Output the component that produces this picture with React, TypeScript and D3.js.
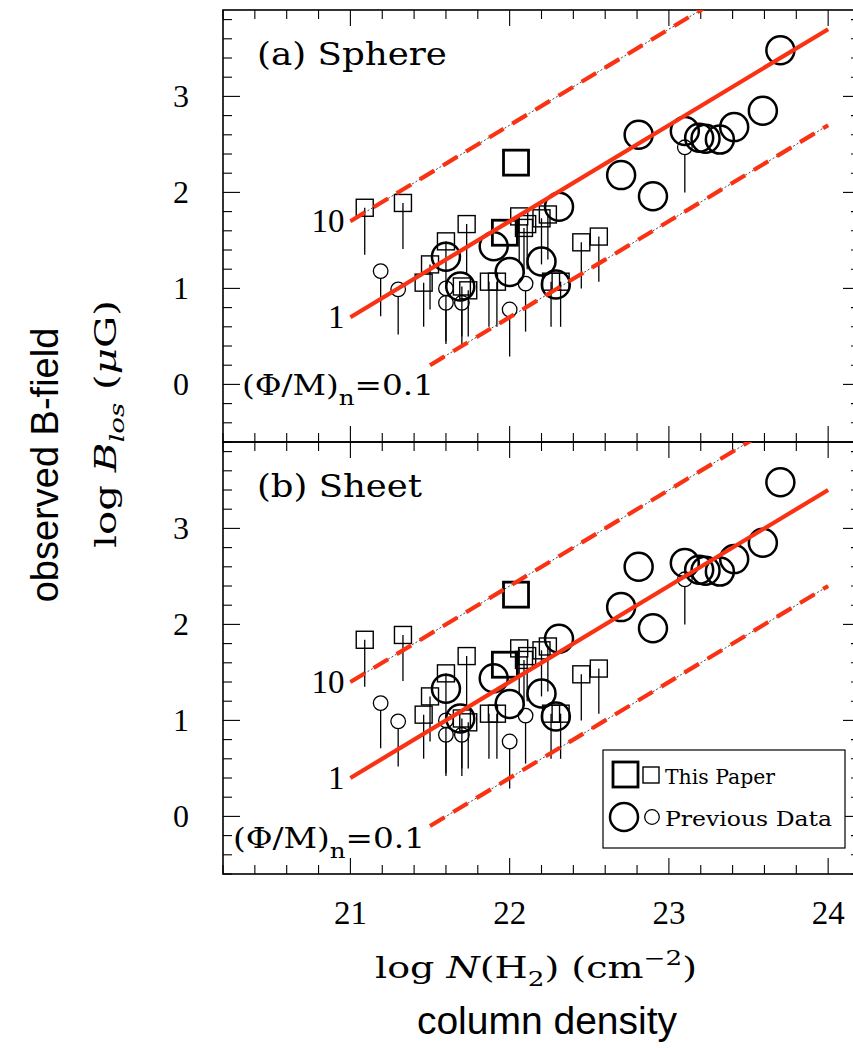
import React from 'react';
import * as d3 from 'd3';

// ---------- data (log N(H2), log B_los) ----------
const xTickValues = [21, 22, 23, 24];
const yTickValues = [0, 1, 2, 3];

// This Paper, detections (large squares)
const paperDetN = [22.04, 21.97];
const paperDetB = [2.31, 1.58];

// This Paper, limits (small squares with lines down)
const paperLimN = [21.09, 21.33, 21.46, 21.5, 21.6, 21.73, 21.87, 21.92, 22.06, 22.11, 22.09, 22.2, 22.24, 22.26, 22.32, 22.45, 22.56, 21.7, 21.74];
const paperLimB = [1.84, 1.89, 1.06, 1.25, 1.49, 1.67, 1.07, 1.07, 1.75, 1.67, 1.63, 1.73, 1.77, 1.07, 1.07, 1.48, 1.54, 1.02, 0.98];
const paperLimLow = [1.35, 1.41, 0.6, 0.78, 1.0, 1.15, 0.6, 0.6, 1.27, 1.2, 1.15, 1.25, 1.3, 0.6, 0.6, 1.0, 1.07, 0.5, 0.5];

// Previous Data, detections (large circles)
const prevDetN = [21.6, 21.69, 21.9, 22.0, 22.2, 22.29, 22.31, 22.7, 22.81, 22.9, 23.1, 23.19, 23.23, 23.32, 23.41, 23.59, 23.7];
const prevDetB = [1.33, 1.02, 1.44, 1.17, 1.28, 1.04, 1.85, 2.18, 2.6, 1.96, 2.64, 2.57, 2.56, 2.55, 2.68, 2.85, 3.48];

// Previous Data, limits (small circles with lines down)
const prevLimN = [21.19, 21.3, 21.6, 21.6, 21.7, 22.0, 22.1, 23.1];
const prevLimB = [1.18, 0.99, 1.0, 0.85, 0.85, 0.78, 1.05, 2.47];
const prevLimLow = [0.71, 0.52, 0.45, 0.42, 0.42, 0.29, 0.55, 2.0];

// model lines: value of log B at log N = 21, per panel: [10, 1, 0.1]
const panelTitles = ['(a) Sphere', '(b) Sheet'];
const sphereIntercepts = [1.7, 0.7, -0.3];
const sheetIntercepts = [1.4, 0.4, -0.6];
const lineStartN = [21, 21, 21.5];
const lineEndN = 24;
const ratioLabels = ['10', '1'];

const RED = '#fa3214';
const WIDE = "'DejaVu Serif', serif";

const left = 223;
const right = 860;
const panelTops = [10, 442];
const panelH = 432;

function Panel({ idx }: { idx: number }) {
  const top = panelTops[idx];
  const x = d3.scaleLinear().domain([20.2, 24.2]).range([left, right]);
  const y = d3.scaleLinear().domain([-0.6, 3.9]).range([top + panelH, top]);
  const intercepts = idx === 0 ? sphereIntercepts : sheetIntercepts;
  const clipId = `clip${idx}`;
  const xMinor = d3.range(20.2, 24.21, 0.2);
  const yMinor = d3.range(-0.6, 3.81, 0.2);
  const isMajor = (v: number) => Math.abs(v - Math.round(v)) < 1e-6;
  const line = d3.line<[number, number]>().x((d) => x(d[0])).y((d) => y(d[1]));

  return (
    <g>
      <defs>
        <clipPath id={clipId}>
          <rect x={left} y={top} width={right - left} height={panelH} />
        </clipPath>
      </defs>
      {/* ticks */}
      {xMinor.map((v, i) => {
        const L = isMajor(v) ? 16 : 9;
        return (
          <g key={'xt' + i} stroke="#000" strokeWidth={1.1}>
            <line x1={x(v)} x2={x(v)} y1={top} y2={top + L} />
            <line x1={x(v)} x2={x(v)} y1={top + panelH} y2={top + panelH - L} />
          </g>
        );
      })}
      {yMinor.map((v, i) => {
        const L = isMajor(v) ? 17 : 9;
        return (
          <g key={'yt' + i} stroke="#000" strokeWidth={1.1}>
            <line x1={left} x2={left + L} y1={y(v)} y2={y(v)} />
            <line x1={right} x2={right - L} y1={y(v)} y2={y(v)} />
          </g>
        );
      })}
      <rect x={left} y={top} width={right - left} height={panelH} fill="none" stroke="#000" strokeWidth={1.6} />
      {/* y tick labels */}
      {yTickValues.map((v) => (
        <text key={'yl' + v} x={189} y={y(v) + 11} textAnchor="end" fontSize={32}>
          {v}
        </text>
      ))}
      {/* title */}
      <text x={257} y={top + 55} fontSize={31} fontFamily={WIDE} textLength={idx === 0 ? 190 : 165} lengthAdjust="spacingAndGlyphs">
        {panelTitles[idx]}
      </text>
      {/* data */}
      <g clipPath={`url(#${clipId})`}>
        {paperLimN.map((n, i) => (
          <line key={'pll' + i} x1={x(n)} x2={x(n)} y1={y(paperLimB[i])} y2={y(paperLimLow[i])} stroke="#000" strokeWidth={1.3} />
        ))}
        {prevLimN.map((n, i) => (
          <line key={'cll' + i} x1={x(n)} x2={x(n)} y1={y(prevLimB[i]) + 7} y2={y(prevLimLow[i])} stroke="#000" strokeWidth={1.3} />
        ))}
        {paperLimN.map((n, i) => (
          <rect key={'pls' + i} x={x(n) - 8.5} y={y(paperLimB[i]) - 8.5} width={17} height={17} fill="none" stroke="#000" strokeWidth={1.4} />
        ))}
        {prevLimN.map((n, i) => (
          <circle key={'clc' + i} cx={x(n)} cy={y(prevLimB[i])} r={7.3} fill="none" stroke="#000" strokeWidth={1.3} />
        ))}
        {paperDetN.map((n, i) => (
          <rect key={'pds' + i} x={x(n) - 12.5} y={y(paperDetB[i]) - 12.5} width={25} height={25} fill="none" stroke="#000" strokeWidth={2.8} />
        ))}
        {prevDetN.map((n, i) => (
          <circle key={'cdc' + i} cx={x(n)} cy={y(prevDetB[i])} r={14} fill="none" stroke="#000" strokeWidth={2.5} />
        ))}
        {/* model lines */}
        {intercepts.map((b, k) => {
          const pts: [number, number][] = [
            [lineStartN[k], b + (lineStartN[k] - 21)],
            [lineEndN, b + (lineEndN - 21)],
          ];
          const d = line(pts) || '';
          if (k === 1) {
            return <path key={'ml' + k} d={d} stroke={RED} strokeWidth={4.2} fill="none" />;
          }
          return (
            <g key={'ml' + k}>
              <path d={d} stroke="#333" strokeWidth={0.9} strokeDasharray="2 2" fill="none" />
              <path d={d} stroke={RED} strokeWidth={4.2} strokeDasharray="17 10" fill="none" />
            </g>
          );
        })}
      </g>
      {/* ratio labels */}
      {ratioLabels.map((s, k) => (
        <text key={'rl' + k} x={x(21) - 6} y={y(intercepts[k]) + 11} textAnchor="end" fontSize={33}>
          {s}
        </text>
      ))}
      <text
        x={idx === 0 ? 242 : 233}
        y={y(intercepts[2] + 0.5) + (idx === 0 ? 30 : 22)}
        fontSize={28}
        fontFamily={WIDE}
        textLength={192}
        lengthAdjust="spacingAndGlyphs"
      >
        (Φ/M)
        <tspan fontSize={21} dy={10}>n</tspan>
        <tspan dy={-10}>=0.1</tspan>
      </text>
    </g>
  );
}

export default function App() {
  const x = d3.scaleLinear().domain([20.2, 24.2]).range([left, right]);
  const bottom = panelTops[1] + panelH;
  return (
    <svg
      width={853}
      height={1048}
      style={{ position: 'absolute', left: 0, top: 0, background: '#fff' }}
      fontFamily="'Liberation Serif', serif"
    >
      <rect x={0} y={0} width={853} height={1048} fill="#fff" />
      <Panel idx={0} />
      <Panel idx={1} />
      {/* x tick labels */}
      {xTickValues.map((v) => (
        <text key={'xl' + v} x={x(v)} y={bottom + 50} textAnchor="middle" fontSize={33}>
          {v}
        </text>
      ))}
      {/* legend */}
      <g fontFamily={WIDE}>
        <rect x={603} y={750} width={242} height={98} fill="#fff" stroke="#000" strokeWidth={1.2} />
        <rect x={613} y={762} width={25} height={25} fill="none" stroke="#000" strokeWidth={2.8} />
        <rect x={643} y={767} width={16} height={16} fill="none" stroke="#000" strokeWidth={1.4} />
        <text x={665} y={784} fontSize={21} textLength={110} lengthAdjust="spacingAndGlyphs">This Paper</text>
        <circle cx={624} cy={817} r={14} fill="none" stroke="#000" strokeWidth={2.5} />
        <circle cx={652} cy={817} r={7.3} fill="none" stroke="#000" strokeWidth={1.3} />
        <text x={665} y={826} fontSize={21} textLength={167} lengthAdjust="spacingAndGlyphs">Previous Data</text>
      </g>
      {/* axis titles */}
      <text x={375} y={978} fontSize={29} fontFamily={WIDE} textLength={322} lengthAdjust="spacingAndGlyphs">
        log <tspan fontStyle="italic">N</tspan>(H<tspan fontSize={20} dy={8}>2</tspan>
        <tspan dy={-8}>) (cm</tspan>
        <tspan fontSize={20} dy={-13}>−2</tspan>
        <tspan dy={13}>)</tspan>
      </text>
      <text transform="translate(116,548) rotate(-90)" fontSize={29} fontFamily={WIDE} textLength={248} lengthAdjust="spacingAndGlyphs">
        log <tspan fontStyle="italic">B</tspan>
        <tspan fontSize={20} fontStyle="italic" dy={8}>los</tspan>
        <tspan dy={-8}> (</tspan>
        <tspan fontStyle="italic">μ</tspan>G)
      </text>
      <text
        transform="translate(58,465) rotate(-90)"
        textAnchor="middle"
        fontSize={38}
        fontFamily="'Liberation Sans', Arial, sans-serif"
      >
        observed B-field
      </text>
      <text x={547} y={1034} textAnchor="middle" fontSize={39} fontFamily="'Liberation Sans', Arial, sans-serif">
        column density
      </text>
    </svg>
  );
}
